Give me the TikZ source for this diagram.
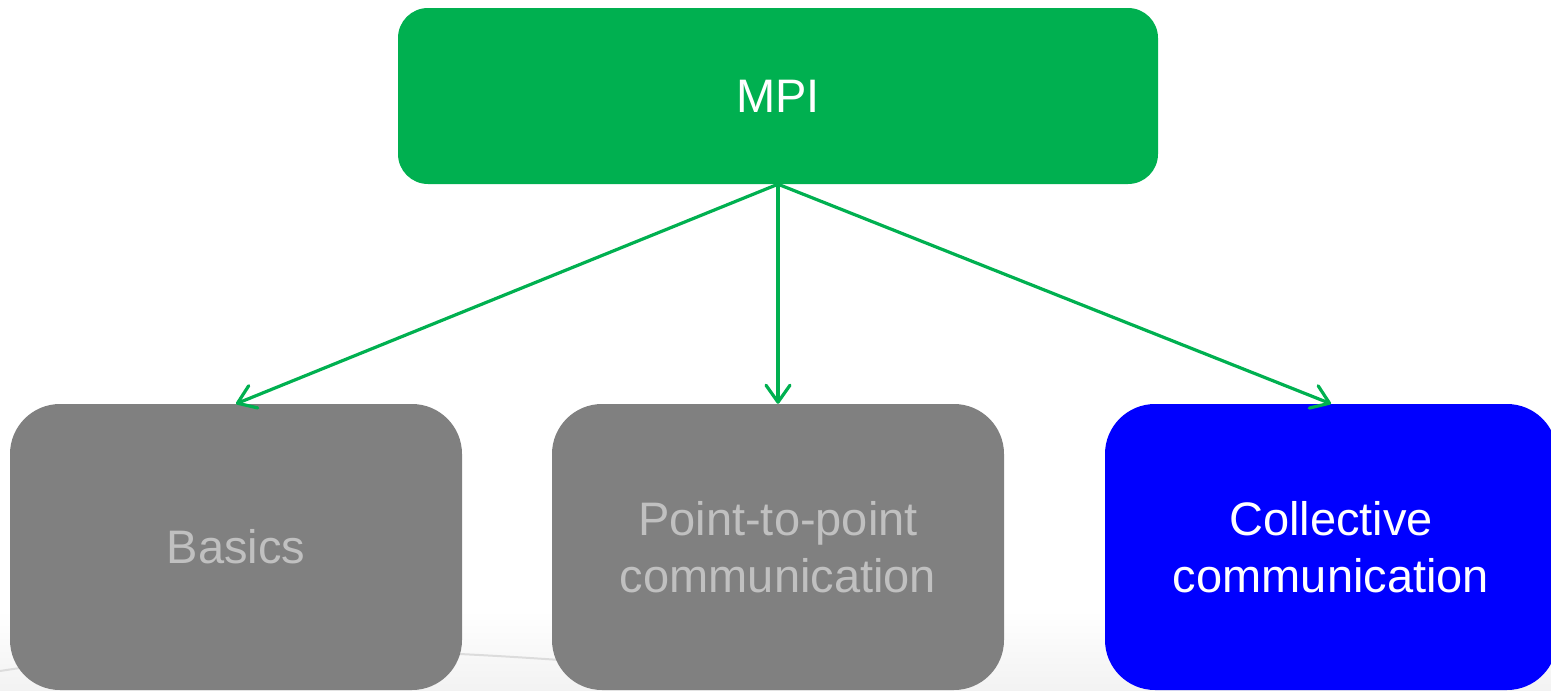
\documentclass[tikz,border=0pt]{standalone}
\usepackage{fontspec}
\setmainfont{Liberation Sans}
\usetikzlibrary{arrows.meta}
\definecolor{mpigreen}{HTML}{00B050}
\definecolor{boxgray}{HTML}{808080}
\definecolor{textgray}{HTML}{C0C0C0}
\definecolor{topicblue}{HTML}{0000FF}
\definecolor{faintline}{HTML}{DCDCDC}
\tikzset{
  rootbox/.style={fill=mpigreen, rounded corners=30pt, minimum width=760pt,
    minimum height=176pt, inner sep=0pt, text=white,
    font=\fontsize{47}{56}\selectfont},
  topicbox/.style={rounded corners=50pt, minimum width=452pt,
    minimum height=286pt, inner sep=0pt, align=center,
    font=\fontsize{47}{57}\selectfont},
  donebox/.style={topicbox, fill=boxgray, text=textgray},
  currentbox/.style={topicbox, fill=topicblue, text=white},
  branch/.style={draw=mpigreen, line width=3.2pt,
    -{Straight Barb[length=17pt,width=24pt,line cap=round,line join=round]}}
}
\begin{document}
\begin{tikzpicture}[x=1pt,y=-1pt]
  \useasboundingbox (0,0) rectangle (1551,691);
  \clip (0,0) rectangle (1551,691);
  % faint background curve and shading along the bottom
  \fill[top color=white, bottom color=black!5] (0,610) rectangle (1551,691);
  \draw[faintline, line width=2pt] (0,671) .. controls (160,646) and (330,644) .. (560,660);
  % nodes
  \node[rootbox] (mpi) at (778,96) {MPI};
  \node[donebox] (basics) at (236,547) {Basics};
  \node[donebox] (p2p) at (778,547) {Point-to-point\\communication};
  \node[currentbox] (coll) at (1331,547) {Collective\\communication};
  % connectors
  \draw[branch] (mpi.south) -- (basics.north);
  \draw[branch] (mpi.south) -- (p2p.north);
  \draw[branch] (mpi.south) -- (coll.north);
\end{tikzpicture}
\end{document}
